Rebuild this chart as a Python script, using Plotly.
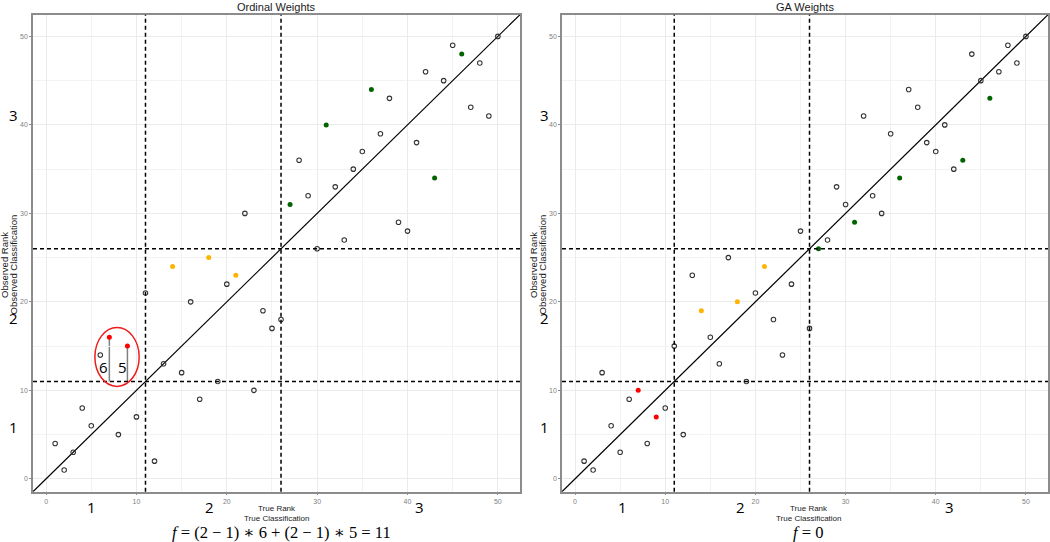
import plotly.graph_objects as go

# ---------------- data ----------------
true_rank = [1, 2, 3, 4, 5, 6, 7, 8, 9, 10, 11, 12, 13, 14, 15, 16, 17, 18, 19, 20,
             21, 22, 23, 24, 25, 26, 27, 28, 29, 30, 31, 32, 33, 34, 35, 36, 37, 38, 39, 40,
             41, 42, 43, 44, 45, 46, 47, 48, 49, 50]
obs_ordinal = [4, 1, 3, 8, 6, 14, 16, 5, 15, 7, 21, 2, 13, 24, 12, 20, 9, 25, 11, 22,
               23, 30, 10, 19, 17, 18, 31, 36, 32, 26, 40, 33, 27, 35, 37, 44, 39, 43, 29, 28,
               38, 46, 34, 45, 49, 48, 42, 47, 41, 50]
obs_ga = [2, 1, 12, 6, 3, 9, 10, 4, 7, 8, 15, 5, 23, 19, 16, 13, 25, 20, 11, 21,
          24, 18, 14, 22, 28, 17, 26, 27, 33, 31, 29, 41, 32, 30, 39, 34, 44, 42, 38, 37,
          40, 35, 36, 48, 45, 43, 46, 49, 47, 50]
# highlight group of each true rank
group = ["none"] * 6 + ["red", "none", "red", "none"] + ["none"] * 3 + ["orange", "none", "none", "none",
         "orange", "none", "none", "orange"] + ["none"] * 5 + ["green", "none", "none", "none", "green",
         "none", "none", "none", "none", "green", "none", "none", "none", "none", "none", "none",
         "green", "none", "none", "green", "none", "none", "none", "none"]
class_cuts = [11, 26]
panel_titles = ["Ordinal Weights", "GA Weights"]
formulas = ["<i>f</i> = (2 − 1) ∗ 6 + (2 − 1) ∗ 5 = 11", "<i>f</i> = 0"]
gap_labels = ["6", "5"]
class_labels = ["1", "2", "3"]

colors = {"red": "#ff0000", "orange": "#ffb400", "green": "#006400"}

W, H = 1050, 542
AX_RANGE = [-1.45, 52.45]


def px(x):
    return x / W


def py(y):
    return 1 - y / H


fig = go.Figure()

panels = [
    dict(obs=obs_ordinal, xa="x", ya="y", dom=[px(33), px(520)]),
    dict(obs=obs_ga, xa="x2", ya="y2", dom=[px(562), px(1048)]),
]
ydom = [py(491.7), py(14.7)]

shapes = []
annotations = []

for i, p in enumerate(panels):
    xa, ya = p["xa"], p["ya"]
    # diagonal reference line y = x
    fig.add_trace(go.Scatter(x=AX_RANGE, y=AX_RANGE, mode="lines",
                             line=dict(color="black", width=1.2),
                             xaxis=xa, yaxis=ya, showlegend=False, hoverinfo="skip"))
    xs_o = [t for t, g in zip(true_rank, group) if g == "none"]
    ys_o = [o for o, g in zip(p["obs"], group) if g == "none"]
    fig.add_trace(go.Scatter(x=xs_o, y=ys_o, mode="markers",
                             marker=dict(symbol="circle-open", size=4.5, color="#333333",
                                         line=dict(width=1.1, color="#333333")),
                             xaxis=xa, yaxis=ya, showlegend=False))
    for g, c in colors.items():
        xs = [t for t, gg in zip(true_rank, group) if gg == g]
        ys = [o for o, gg in zip(p["obs"], group) if gg == g]
        fig.add_trace(go.Scatter(x=xs, y=ys, mode="markers",
                                 marker=dict(symbol="circle", size=5, color=c),
                                 xaxis=xa, yaxis=ya, showlegend=False))
    xref = xa
    yref = ya
    for c in class_cuts:
        shapes.append(dict(type="line", xref=xref, yref=yref + " domain", x0=c, x1=c, y0=0, y1=1,
                           line=dict(color="black", width=1.5, dash="4px,3px")))
        shapes.append(dict(type="line", xref=xref + " domain", yref=yref, x0=0, x1=1, y0=c, y1=c,
                           line=dict(color="black", width=1.5, dash="4px,3px")))

    cx = (p["dom"][0] + p["dom"][1]) / 2
    annotations.append(dict(text=panel_titles[i], x=cx, y=py(7), xref="paper", yref="paper",
                            showarrow=False, font=dict(size=11, color="#1a1a1a", family="Liberation Sans"),
                            xanchor="center", yanchor="middle"))
    off = 0 if i == 0 else 529
    # y-axis titles
    annotations.append(dict(text="Observed Rank", x=px(5 + off), y=py(265),
                            xref="paper", yref="paper", showarrow=False, textangle=-90,
                            font=dict(size=9.5, color="#1a1a1a", family="Liberation Sans"),
                            xanchor="center", yanchor="middle"))
    annotations.append(dict(text="Observed Classification", x=px(13.5 + off), y=py(265),
                            xref="paper", yref="paper", showarrow=False, textangle=-90,
                            font=dict(size=9.5, color="#1a1a1a", family="Liberation Sans"),
                            xanchor="center", yanchor="middle"))
    # x-axis titles
    xt = 277 if i == 0 else 809
    annotations.append(dict(text="True Rank", x=px(xt), y=py(508), xref="paper", yref="paper",
                            showarrow=False, font=dict(size=8, color="#1a1a1a", family="Liberation Sans"),
                            xanchor="center", yanchor="middle"))
    annotations.append(dict(text="True Classification", x=px(xt), y=py(518), xref="paper", yref="paper",
                            showarrow=False, font=dict(size=8, color="#1a1a1a", family="Liberation Sans"),
                            xanchor="center", yanchor="middle"))
    # big class labels
    ylx = 13.5 if i == 0 else 544
    for lab, yy in zip(class_labels, [427, 318, 115]):
        annotations.append(dict(text=lab, x=px(ylx), y=py(yy), xref="paper", yref="paper",
                                showarrow=False, font=dict(size=15, color="black", family="Open Sans"),
                                xanchor="center", yanchor="middle"))
    bx = [91, 209, 419] if i == 0 else [622, 740, 949]
    for lab, xx in zip(class_labels, bx):
        annotations.append(dict(text=lab, x=px(xx), y=py(507), xref="paper", yref="paper",
                                showarrow=False, font=dict(size=15, color="black", family="Open Sans"),
                                xanchor="center", yanchor="middle"))
    # formula
    annotations.append(dict(text=formulas[i], x=px(281 if i == 0 else 808), y=py(532),
                            xref="paper", yref="paper", showarrow=False,
                            font=dict(size=16.5, color="black", family="Liberation Serif, DejaVu Serif"),
                            xanchor="center", yanchor="middle"))

# red ellipse annotation in left panel
shapes.append(dict(type="circle", xref="x", yref="y", x0=5.4, x1=10.3, y0=10.45, y1=17.1,
                   line=dict(color="#ee1c1c", width=1.5)))
red_x = [t for t, g in zip(true_rank, group) if g == "red"]
red_y = [o for o, g in zip(obs_ordinal, group) if g == "red"]
for rx, ry, lab in zip(red_x, red_y, gap_labels):
    shapes.append(dict(type="line", xref="x", yref="y", x0=rx, x1=rx, y0=class_cuts[0], y1=ry,
                       line=dict(color="#808080", width=1.5), layer="below"))
    annotations.append(dict(text=lab, x=rx - 0.6, y=12.65, xref="x", yref="y", showarrow=False,
                            font=dict(size=15, color="black", family="Open Sans"),
                            xanchor="center", yanchor="middle"))

axis_common = dict(range=AX_RANGE, showgrid=True, gridcolor="#ebebeb", gridwidth=1,
                   dtick=10, tick0=0, zeroline=False, showline=True, mirror=True,
                   linecolor="#8c8c8c", linewidth=1.5, ticks="outside", ticklen=2,
                   tickcolor="#8c8c8c", tickfont=dict(size=7, color="#7f7f7f", family="Liberation Sans"),
                   minor=dict(dtick=5, tick0=0, showgrid=True, gridcolor="#f3f3f3", gridwidth=1, ticks=""))

fig.update_layout(
    width=W, height=H,
    margin=dict(l=0, r=0, t=0, b=0),
    paper_bgcolor="white", plot_bgcolor="white",
    xaxis=dict(domain=panels[0]["dom"], anchor="y", **axis_common),
    yaxis=dict(domain=ydom, anchor="x", **axis_common),
    xaxis2=dict(domain=panels[1]["dom"], anchor="y2", **axis_common),
    yaxis2=dict(domain=ydom, anchor="x2", **axis_common),
    shapes=shapes,
    annotations=annotations,
    showlegend=False,
)

fig.write_html("out.html", config={"displayModeBar": False},
               post_script="document.body.style.margin='0';document.body.style.overflow='hidden';")
